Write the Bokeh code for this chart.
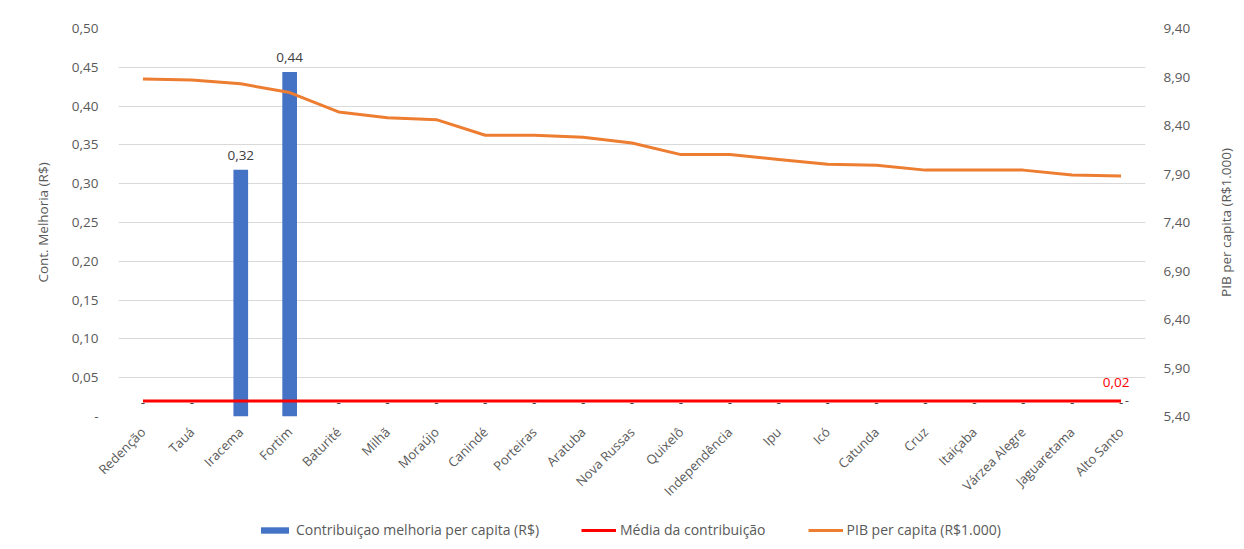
from bokeh.plotting import figure
from bokeh.layouts import column, row
from bokeh.models import (ColumnDataSource, FactorRange, Range1d, LinearAxis, FixedTicker,
                          CustomJSTickFormatter, Legend, LegendItem)
from bokeh.core.properties import value
from bokeh.embed import file_html
from bokeh.resources import INLINE
import math

# ---- data ----
municipios = ["Redenção", "Tauá", "Iracema", "Fortim", "Baturité", "Milhã", "Moraújo", "Canindé",
              "Porteiras", "Aratuba", "Nova Russas", "Quixelô", "Independência", "Ipu", "Icó",
              "Catunda", "Cruz", "Itaiçaba", "Várzea Alegre", "Jaguaretama", "Alto Santo"]
contribuicao = [0, 0, 0.318, 0.444, 0, 0, 0, 0, 0, 0, 0, 0, 0, 0, 0, 0, 0, 0, 0, 0, 0]
media_contribuicao = [0.02, 0.02, 0.02, 0.02, 0.02, 0.02, 0.02, 0.02, 0.02, 0.02, 0.02,
                      0.02, 0.02, 0.02, 0.02, 0.02, 0.02, 0.02, 0.02, 0.02, 0.02]
pib_per_capita = [8.88, 8.87, 8.83, 8.74, 8.54, 8.48, 8.46, 8.30, 8.30, 8.28, 8.22,
                  8.10, 8.10, 8.05, 8.00, 7.99, 7.94, 7.94, 7.94, 7.89, 7.88]
left_ticks = [0, 0.05, 0.10, 0.15, 0.20, 0.25, 0.30, 0.35, 0.40, 0.45, 0.50]
right_ticks = [5.40, 5.90, 6.40, 6.90, 7.40, 7.90, 8.40, 8.90, 9.40]
series_names = ["Contribuiçao melhoria per capita (R$)", "Média da contribuição",
                "PIB per capita (R$1.000)"]
left_title = "Cont. Melhoria (R$)"

FONT = "Open Sans"
TXT = "#595959"
BLUE, RED, ORANGE = "#4472C4", "#FF0000", "#ED7D31"

bar_labels = ["-" if v == 0 else f"{v:.2f}".replace(".", ",") for v in contribuicao]
src = ColumnDataSource(dict(x=municipios, bar=contribuicao, media=media_contribuicao,
                            pib=pib_per_capita, lab=bar_labels))

W = 1210
p = figure(x_range=FactorRange(factors=municipios), y_range=Range1d(0, 0.5),
           width=W, height=510, output_backend="svg", toolbar_location=None,
           min_border_left=118, min_border_right=65, min_border_top=28, min_border_bottom=94)
p.extra_y_ranges = {"pib": Range1d(5.4, 9.4)}
p.outline_line_color = None
p.background_fill_color = "white"
p.border_fill_color = "white"

# grid
p.xgrid.visible = False
p.ygrid.ticker = FixedTicker(ticks=left_ticks)
p.ygrid.grid_line_color = "#d9d9d9"
p.ygrid.grid_line_width = 1

fmt = CustomJSTickFormatter(code="return tick == 0 ? '-' : tick.toFixed(2).replace('.', ',');")

def style_axis(ax):
    ax.axis_line_color = None
    ax.major_tick_line_color = None
    ax.minor_tick_line_color = None
    ax.major_tick_out = 0
    ax.major_tick_in = 0
    ax.major_label_text_font = FONT
    ax.major_label_text_font_size = "13.5px"
    ax.major_label_text_color = TXT
    ax.axis_label_text_font = FONT
    ax.axis_label_text_font_size = "13.5px"
    ax.axis_label_text_font_style = "normal"
    ax.axis_label_text_color = TXT

# left axis
ya = p.yaxis[0]
ya.ticker = FixedTicker(ticks=left_ticks)
ya.formatter = fmt
style_axis(ya)
ya.major_label_standoff = 20
ya.axis_label = left_title
ya.axis_label_standoff = 17

# right axis
ra = LinearAxis(y_range_name="pib", ticker=FixedTicker(ticks=right_ticks), formatter=fmt)
style_axis(ra)
ra.major_label_standoff = 18
p.add_layout(ra, "right")

# x axis
xa = p.xaxis[0]
style_axis(xa)
xa.major_label_orientation = math.pi / 4
xa.major_label_standoff = 13
xa.major_label_text_font_size = "13px"

# glyphs
bars = p.vbar(x="x", top="bar", width=0.3, source=src, fill_color=BLUE, line_color=None)
p.text(x="x", y="bar", text="lab", source=src, text_align="center", text_baseline="middle",
       y_offset=-14, text_font=value(FONT), text_font_size="13.5px", text_color="#404040")
red = p.line(x="x", y="media", source=src, line_color=RED, line_width=3)
orange = p.line(x="x", y="pib", source=src, y_range_name="pib", line_color=ORANGE,
                line_width=3, line_join="round")

last_src = ColumnDataSource(dict(x=[municipios[-1]], y=[media_contribuicao[-1]],
                                 t=[f"{media_contribuicao[-1]:.2f}".replace(".", ",")]))
p.text(x="x", y="y", text="t", source=last_src, text_align="center", text_baseline="middle",
       x_offset=-5, y_offset=-18, text_font=value(FONT), text_font_size="13.5px", text_color=RED)
p.text(x="x", y="y", text=value("-"), source=last_src, text_align="center", text_baseline="middle",
       x_offset=6, y_offset=0, text_font=value(FONT), text_font_size="12px", text_color="#404040")

# right-hand axis title in its own strip (reads bottom-to-top)
tf = figure(width=26, height=510, output_backend="svg", toolbar_location=None,
            x_range=Range1d(0, 26), y_range=Range1d(0, 1), x_axis_type=None, y_axis_type=None,
            min_border_left=0, min_border_right=0, min_border_top=28, min_border_bottom=94)
tf.outline_line_color = None
tf.grid.visible = False
tf.text(x=[15], y=[0.5], text=[series_names[2]], angle=math.pi / 2, text_align="center",
        text_baseline="middle", text_font=value(FONT), text_font_size="13.5px", text_color=TXT)

# legend strip (separate figure so the legend is not clipped)
lg = figure(width=W, height=31, output_backend="svg", toolbar_location=None,
            x_range=Range1d(0, 1), y_range=Range1d(0, 1), x_axis_type=None, y_axis_type=None,
            min_border=0)
lg.outline_line_color = None
lg.grid.visible = False
hidden = ColumnDataSource(dict(x=[-10, -9], y=[-10, -9]))
lb = lg.vbar(x="x", top="y", width=0.1, source=hidden, fill_color=BLUE, line_color=None)
lr = lg.line(x="x", y="y", source=hidden, line_color=RED, line_width=3)
lo = lg.line(x="x", y="y", source=hidden, line_color=ORANGE, line_width=3)
legend = Legend(items=[LegendItem(label=series_names[0], renderers=[lb]),
                       LegendItem(label=series_names[1], renderers=[lr]),
                       LegendItem(label=series_names[2], renderers=[lo])],
                orientation="horizontal", location=(139, 2), padding=0, margin=0,
                spacing=42, label_standoff=4, glyph_width=35, glyph_height=8, label_height=10,
                border_line_color=None, background_fill_alpha=0,
                label_text_font=FONT, label_text_font_size="14px", label_text_color=TXT)
lg.add_layout(legend)

open("out.html", "w").write(file_html(row(column(p, lg, spacing=0), tf, spacing=0), INLINE))
